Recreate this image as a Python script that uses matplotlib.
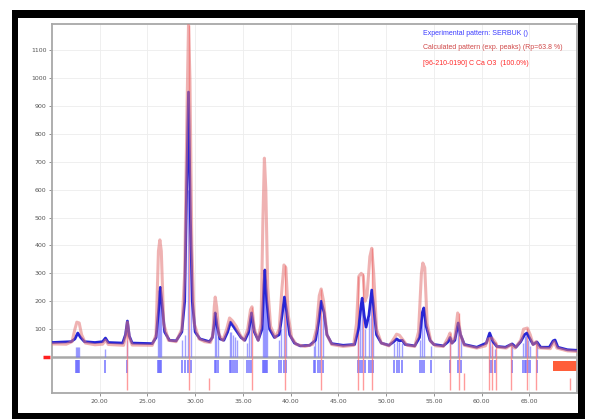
import matplotlib.pyplot as plt
import matplotlib.transforms as mtransforms
from matplotlib.patches import Rectangle

# experimental pattern (2theta, counts)
exp_x = [15.0, 17.0, 17.4, 17.7, 18.0, 18.4, 19.5, 20.3, 20.6, 20.9, 22.4, 22.7, 22.9, 23.1, 23.4,
         25.5, 25.9, 26.2, 26.35, 26.5, 26.8, 27.3, 28.0, 28.6, 28.9, 29.1, 29.3, 29.5, 29.7, 30.0,
         30.5, 31.0, 31.5, 31.8, 32.0, 32.1, 32.3, 32.6, 33.0, 33.4, 33.7, 34.0, 34.4, 34.8, 35.2,
         35.6, 35.9, 36.2, 36.6, 37.0, 37.2, 37.3, 37.5, 37.8, 38.3, 38.8, 39.1, 39.35, 39.6, 39.9,
         40.4, 41.0, 42.0, 42.6, 42.9, 43.2, 43.5, 43.8, 44.3, 45.5, 46.7, 47.1, 47.4, 47.5, 47.7,
         47.9, 48.2, 48.5, 48.7, 49.0, 49.5, 50.3, 50.8, 51.1, 51.4, 51.7, 52.0, 53.0, 53.5, 53.8,
         53.95, 54.2, 54.6, 55.0, 56.0, 56.5, 56.7, 56.9, 57.2, 57.55, 57.8, 58.2, 59.5, 60.5, 60.85,
         61.2, 61.6, 62.5, 63.2, 63.6, 64.1, 64.5, 64.75, 65.0, 65.4, 65.8, 66.2, 67.1, 67.5, 67.7,
         68.0, 69.0, 70.0]
exp_y = [52, 55, 65, 86, 70, 55, 52, 55, 68, 52, 50, 80, 129, 75, 50,
         48, 70, 180, 250, 200, 90, 60, 58, 90, 200, 600, 950, 500, 200, 90,
         65, 60, 55, 70, 120, 158, 110, 65, 60, 90, 125, 110, 90, 70, 60,
         90, 158, 90, 60, 100, 260, 312, 200, 100, 70, 80, 150, 215, 160, 80,
         50, 40, 42, 60, 120, 200, 160, 80, 48, 42, 45, 100, 190, 211, 150,
         107, 150, 240, 180, 80, 50, 42, 55, 65, 58, 60, 45, 40, 70, 160,
         176, 110, 60, 45, 40, 55, 70, 50, 60, 122, 80, 45, 35, 50, 86,
         55, 38, 35, 47, 35, 55, 80, 86, 70, 45, 54, 35, 35, 58, 61,
         35, 26, 24]

# calculated pattern
calc_x = [15.0, 16.5, 17.1, 17.4, 17.6, 17.85, 18.1, 18.5, 19.5, 20.3, 20.6, 20.9, 22.5, 22.75, 22.9,
          23.1, 23.4, 25.5, 25.9, 26.15, 26.3, 26.45, 26.7, 27.2, 28.0, 28.6, 28.9, 29.15, 29.3, 29.45,
          29.65, 29.9, 30.4, 31.0, 31.6, 31.85, 32.0, 32.1, 32.25, 32.5, 32.9, 33.3, 33.6, 33.9, 34.3,
          34.7, 35.1, 35.5, 35.8, 35.95, 36.2, 36.6, 36.9, 37.1, 37.25, 37.4, 37.6, 37.9, 38.4, 38.8,
          39.1, 39.3, 39.5, 39.75, 40.1, 40.6, 41.5, 42.3, 42.7, 43.0, 43.2, 43.45, 43.8, 44.3, 45.5,
          46.6, 46.9, 47.15, 47.4, 47.6, 47.8, 48.0, 48.3, 48.5, 48.7, 49.0, 49.5, 50.3, 50.8, 51.1,
          51.4, 51.8, 52.2, 53.0, 53.4, 53.7, 53.85, 54.05, 54.3, 54.7, 55.2, 56.0, 56.5, 56.7, 56.9,
          57.2, 57.5, 57.8, 58.2, 59.5, 60.4, 60.7, 61.1, 61.4, 61.7, 62.6, 63.1, 63.5, 64.1, 64.4,
          64.8, 65.1, 65.4, 65.7, 66.0, 67.2, 67.6, 67.9, 69.0, 70.0]
calc_y = [47, 46, 55, 100, 125, 122, 80, 50, 44, 46, 60, 45, 42, 80, 125,
          70, 43, 42, 80, 380, 420, 380, 120, 60, 55, 100, 300, 900, 1190, 1000,
          400, 120, 65, 55, 52, 80, 180, 215, 180, 80, 60, 100, 140, 130, 110,
          80, 60, 100, 170, 180, 100, 60, 120, 500, 713, 600, 250, 110, 70, 100,
          250, 330, 320, 150, 70, 45, 38, 45, 100, 220, 244, 200, 80, 45, 38,
          42, 120, 290, 300, 290, 200, 220, 360, 390, 300, 100, 50, 40, 65, 82,
          78, 60, 42, 38, 90, 300, 337, 320, 120, 55, 40, 38, 70, 86, 50,
          70, 158, 80, 42, 32, 40, 65, 68, 55, 35, 32, 45, 32, 60, 100,
          104, 80, 45, 55, 33, 30, 55, 32, 22, 20]

# experimental peak sticks (position, top)
exp_peaks = [17.55, 17.65, 17.75, 17.85, 20.6, 22.9, 26.15, 26.25, 26.35, 26.45,
             28.63, 28.94, 29.26, 29.57, 32.1, 32.2, 32.35, 33.6, 33.8, 34.0, 34.2, 34.4,
             35.4, 35.6, 35.9, 37.1, 37.2, 37.3, 37.4, 37.5, 38.8, 39.0, 39.3, 39.5,
             42.4, 42.6, 42.9, 43.1, 43.4, 47.1, 47.3, 47.5, 47.8, 48.2, 48.4, 48.6,
             50.8, 51.1, 51.4, 51.7, 53.6, 53.8, 54.0, 54.7, 56.7, 57.5, 57.8,
             60.9, 61.1, 61.4, 63.2, 64.3, 64.5, 64.7, 64.9, 65.1, 65.8]
exp_peak_top = [35, 35, 35, 35, 30, 60, 240, 250, 250, 200,
                60, 80, 600, 350, 150, 140, 80, 90, 90, 80, 70, 60,
                50, 90, 150, 200, 300, 310, 280, 150, 60, 100, 200, 150,
                40, 60, 120, 190, 150, 100, 180, 200, 100, 140, 230, 200,
                50, 60, 55, 50, 60, 150, 170, 40, 60, 110, 70,
                70, 40, 30, 40, 50, 75, 80, 60, 40, 45]

# reference [96-210-0190] CaCO3 lines
ref_peaks = [22.9, 29.4, 31.4, 35.95, 39.4, 43.15, 47.1, 47.55, 48.5, 56.7, 57.6, 58.15,
             60.8, 61.1, 61.5, 63.1, 64.8, 65.7, 69.3]
ref_top = [125, 1190, -75, 180, 330, 244, 290, 300, 390, 86, 158, -57,
           65, 68, 55, 45, 104, 55, -75]

legend_lines = ["Experimental pattern: SERBUK ()",
                "Calculated pattern (exp. peaks) (Rp=63.8 %)",
                "[96-210-0190] C Ca O3  (100.0%)"]
legend_colors = ["#3a3aff", "#d04848", "#ff2a2a"]

fig = plt.figure(figsize=(5.91, 4.19), dpi=100)
W, H = 591, 419
fig.add_artist(Rectangle((12 / W, 0), (585 - 12) / W, (419 - 10) / H,
                         transform=fig.transFigure, facecolor='black', zorder=-2))
fig.add_artist(Rectangle((18 / W, 6 / H), (578 - 18) / W, (413 - 18) / H,
                         transform=fig.transFigure, facecolor='white', zorder=-1))

ax = fig.add_axes([52 / W, 1 - 393 / H, (577 - 52) / W, (393 - 24) / H])
ax.set_xlim(15, 70)
ax.set_ylim(-129, 1194)

ax.vlines(exp_peaks, 0, exp_peak_top, color='#7878ff', lw=1.0, alpha=0.7, zorder=2)
ax.vlines(exp_peaks, -57, -11, color='#6a6aff', lw=1.3, alpha=0.8, zorder=2)
ax.vlines(ref_peaks, -118, ref_top, color='#ff7a7a', lw=1.0, alpha=0.75, zorder=2)
ax.add_patch(Rectangle((67.5, -50), 2.5, 36, facecolor='#ff5e3a', edgecolor='none', zorder=2))

ax.axhline(0, color='#a8a8a8', lw=1.8, zorder=1.5)
ax.plot(exp_x, exp_y, color='#2626d6', lw=2.0, zorder=3)
ax.plot(calc_x, calc_y, color='#e27474', lw=2.2, alpha=0.55, zorder=4)

# red marker at the zero level, left of the axis
trans = mtransforms.blended_transform_factory(ax.transAxes, ax.transData)
ax.plot([-0.017, -0.004], [0, 0], transform=trans, color='#ff2020', lw=2.5,
        clip_on=False, solid_capstyle='butt')

ax.set_xticks(range(20, 70, 5))
ax.set_xticklabels(['%.2f' % v for v in range(20, 70, 5)])
ax.set_yticks(range(100, 1200, 100))
ax.grid(color='#ededed', lw=0.6)
ax.set_axisbelow(True)
ax.tick_params(labelsize=4.5, colors='#808080', labelcolor='#555555', length=2, width=0.6, pad=2)
for s in ax.spines.values():
    s.set_color('#a8a8a8')
    s.set_linewidth(1.3)

for i, (t, c) in enumerate(zip(legend_lines, legend_colors)):
    ax.text(0.707, [0.973, 0.935, 0.894][i], t, transform=ax.transAxes, color=c,
            fontsize=5, family='Liberation Sans', va='center', ha='left')

fig.savefig('out.png', dpi=100)
